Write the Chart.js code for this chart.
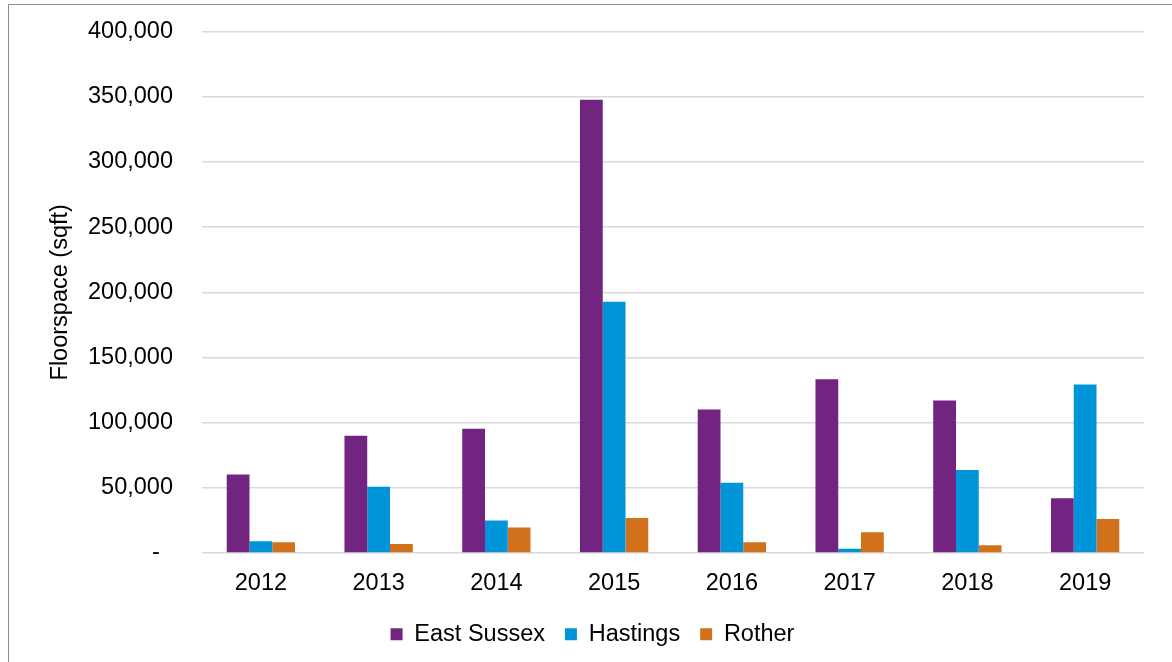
<!DOCTYPE html>
<html>
<head>
<meta charset="utf-8">
<script src="https://cdn.jsdelivr.net/npm/chart.js@4/dist/chart.umd.min.js"></script>
<style>
  html, body { margin: 0; padding: 0; background: #ffffff; }
  #wrap { position: relative; width: 1172px; height: 662px; }
</style>
</head>
<body>
<div id="wrap"><canvas id="chart"></canvas></div>
<script>
// Years on the category axis
const years = ['2012', '2013', '2014', '2015', '2016', '2017', '2018', '2019'];

// Floorspace (sqft) per year
const eastSussex = [60300, 90000, 95400, 347700, 110000, 133300, 116900, 42000];
const hastings   = [9000, 50800, 25000, 192800, 53900, 3350, 63700, 129200];
const rother     = [8250, 7000, 19600, 26800, 8250, 16000, 5900, 26000];

// Value axis ticks
const yTicks = [0, 50000, 100000, 150000, 200000, 250000, 300000, 350000, 400000];

const FONT = "'Liberation Sans', Arial, sans-serif";
const TEXT = '#000000';
const GRID = '#d9d9d9';

// Thin grey frame round the chart
const framePlugin = {
  id: 'frame',
  beforeDraw(chart) {
    const ctx = chart.ctx;
    ctx.save();
    ctx.strokeStyle = '#8c8c8c';
    ctx.lineWidth = 1;
    ctx.beginPath();
    ctx.moveTo(8.5, chart.height + 5);
    ctx.lineTo(8.5, 4.5);
    ctx.lineTo(chart.width + 5, 4.5);
    ctx.stroke();
    ctx.restore();
  }
};

new Chart(document.getElementById('chart'), {
  type: 'bar',
  data: {
    labels: years,
    datasets: [
      { label: 'East Sussex', data: eastSussex, backgroundColor: '#722481' },
      { label: 'Hastings', data: hastings, backgroundColor: '#0094d8' },
      { label: 'Rother', data: rother, backgroundColor: '#d2711c' }
    ]
  },
  options: {
    responsive: true,
    maintainAspectRatio: false,
    animation: false,
    datasets: { bar: { categoryPercentage: 0.58, barPercentage: 1.0, borderWidth: 0 } },
    layout: { padding: { left: 41, right: 28, top: 31.6, bottom: 6 } },
    plugins: {
      tooltip: { enabled: false },
      legend: {
        position: 'bottom',
        labels: {
          boxWidth: 12,
          boxHeight: 12,
          padding: 20,
          color: TEXT,
          font: { family: FONT, size: 23.5 }
        }
      }
    },
    scales: {
      x: {
        grid: { display: false },
        border: { display: false },
        ticks: {
          color: TEXT,
          padding: 8,
          maxRotation: 0,
          font: { family: FONT, size: 23.5 }
        },
        afterFit(scale) { scale.height = 49.5; }
      },
      y: {
        min: 0,
        max: 400000,
        afterBuildTicks(scale) { scale.ticks = yTicks.map(v => ({ value: v })); },
        grid: { color: GRID, lineWidth: 1.6, drawTicks: false },
        border: { display: false },
        ticks: {
          color: TEXT,
          padding: 29,
          font: { family: FONT, size: 23.5 },
          callback: v => v === 0 ? '-  ' : v.toLocaleString('en-US')
        },
        title: {
          display: true,
          text: 'Floorspace (sqft)',
          color: TEXT,
          padding: { top: 5, bottom: 0 },
          font: { family: FONT, size: 23.5 }
        },
        afterFit(scale) {
          scale.width = 161;
          scale.paddingTop = 0;
          scale.paddingBottom = 0;
        }
      }
    }
  },
  plugins: [framePlugin]
});
</script>
</body>
</html>
